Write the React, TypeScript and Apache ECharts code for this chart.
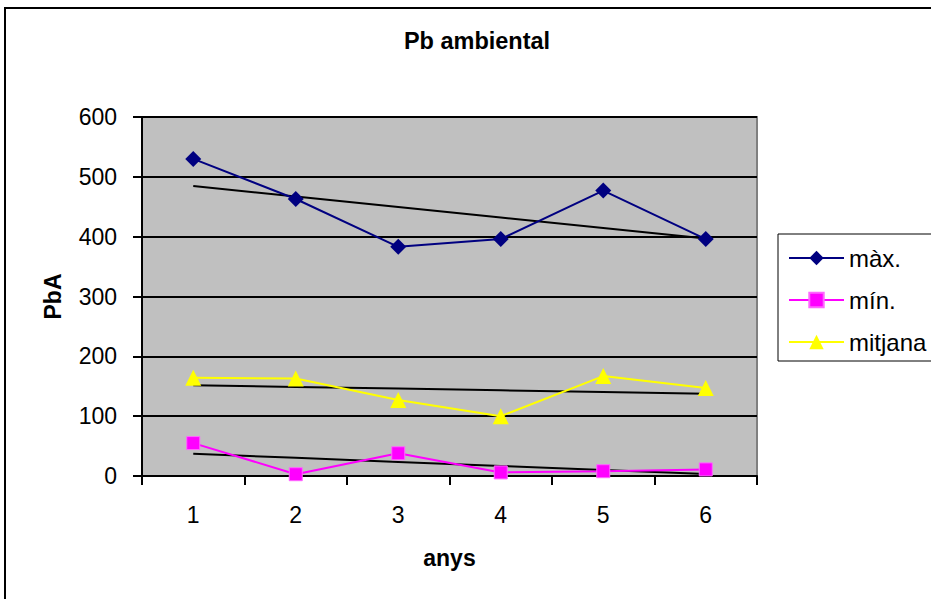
import React, { useEffect, useRef } from "react";
import * as echarts from "echarts";

const categories = ["1", "2", "3", "4", "5", "6"];
const maxValues = [530, 463, 383, 396, 477, 396];
const minValues = [55, 3, 38, 6, 8, 11];
const meanValues = [164, 163, 127, 100, 167, 147];
const yTicks = { min: 0, max: 600, interval: 100 };

const FONT = "Liberation Sans, Arial, sans-serif";

function trend(values: number[]): number[] {
  const n = values.length;
  const xs = values.map((_, i) => i + 1);
  const mx = xs.reduce((a, b) => a + b, 0) / n;
  const my = values.reduce((a, b) => a + b, 0) / n;
  let sxy = 0;
  let sxx = 0;
  for (let i = 0; i < n; i++) {
    sxy += (xs[i] - mx) * (values[i] - my);
    sxx += (xs[i] - mx) * (xs[i] - mx);
  }
  const slope = sxy / sxx;
  return xs.map((x) => my + slope * (x - mx));
}

export default function App() {
  const ref = useRef<HTMLDivElement>(null);
  useEffect(() => {
    if (!ref.current) return;
    const chart = echarts.init(ref.current, null, { renderer: "svg" });
    const trendStyle = (name: string, vals: number[]) => ({
      name,
      type: "line",
      data: trend(vals),
      symbol: "none",
      lineStyle: { color: "#000000", width: 2 },
      itemStyle: { color: "#000000" },
      z: 3,
      silent: true,
    });
    chart.setOption({
      animation: false,
      backgroundColor: "#ffffff",
      textStyle: { fontFamily: FONT },
      graphic: [
        {
          type: "rect",
          shape: { x: 5, y: 8, width: 1000, height: 700 },
          style: { fill: "none", stroke: "#000000", lineWidth: 2 },
          silent: true,
        },
        {
          type: "text",
          x: 477,
          y: 41,
          style: {
            text: "Pb ambiental",
            fontFamily: FONT,
            fontSize: 23.5,
            fontWeight: "bold",
            fill: "#000000",
            textAlign: "center",
            textVerticalAlign: "middle",
          },
        },
      ],
      legend: {
        orient: "vertical",
        left: 778,
        top: 234,
        padding: [12, 30, 7, 10],
        itemGap: 18,
        itemWidth: 55,
        itemHeight: 18,
        borderColor: "#000000",
        borderWidth: 1,
        data: ["màx.", "mín.", "mitjana"],
        textStyle: { fontFamily: FONT, fontSize: 24, color: "#000000" },
      },
      grid: {
        left: 142,
        top: 117,
        right: 174,
        bottom: 123,
        show: true,
        backgroundColor: "#C0C0C0",
        borderColor: "#808080",
        borderWidth: 2,
      },
      xAxis: {
        type: "category",
        data: categories,
        boundaryGap: true,
        name: "anys",
        nameLocation: "middle",
        nameGap: 70,
        nameTextStyle: { fontFamily: FONT, fontSize: 23, fontWeight: "bold", color: "#000000" },
        axisLine: { lineStyle: { color: "#000000", width: 2 } },
        axisTick: { show: true, length: 9, lineStyle: { color: "#000000", width: 2 } },
        axisLabel: { margin: 27, fontFamily: FONT, fontSize: 23, color: "#000000" },
        splitLine: { show: false },
      },
      yAxis: {
        type: "value",
        min: yTicks.min,
        max: yTicks.max,
        interval: yTicks.interval,
        name: "PbA",
        nameLocation: "middle",
        nameRotate: 90,
        nameGap: 78,
        nameTextStyle: { fontFamily: FONT, fontSize: 23, fontWeight: "bold", color: "#000000" },
        axisLine: { show: true, lineStyle: { color: "#000000", width: 2 } },
        axisTick: { show: true, length: 9, lineStyle: { color: "#000000", width: 2 } },
        axisLabel: { margin: 25, fontFamily: FONT, fontSize: 23, color: "#000000" },
        splitLine: { show: true, lineStyle: { color: "#000000", width: 2 } },
      },
      series: [
        trendStyle("trend-max", maxValues),
        trendStyle("trend-min", minValues),
        trendStyle("trend-mean", meanValues),
        {
          name: "màx.",
          type: "line",
          data: maxValues,
          symbol: "diamond",
          symbolSize: 16,
          lineStyle: { color: "#000080", width: 2 },
          itemStyle: { color: "#000080" },
          z: 4,
        },
        {
          name: "mín.",
          type: "line",
          data: minValues,
          symbol: "rect",
          symbolSize: 13,
          lineStyle: { color: "#FF00FF", width: 2 },
          itemStyle: { color: "#FF00FF", borderColor: "#FF66FF", borderWidth: 1 },
          z: 4,
        },
        {
          name: "mitjana",
          type: "line",
          data: meanValues,
          symbol: "triangle",
          symbolSize: 16,
          lineStyle: { color: "#FFFF00", width: 2 },
          itemStyle: { color: "#FFFF00" },
          z: 4,
        },
      ],
    });
    return () => chart.dispose();
  }, []);
  return <div ref={ref} style={{ width: 931, height: 599, position: "absolute", left: 0, top: 0 }} />;
}
